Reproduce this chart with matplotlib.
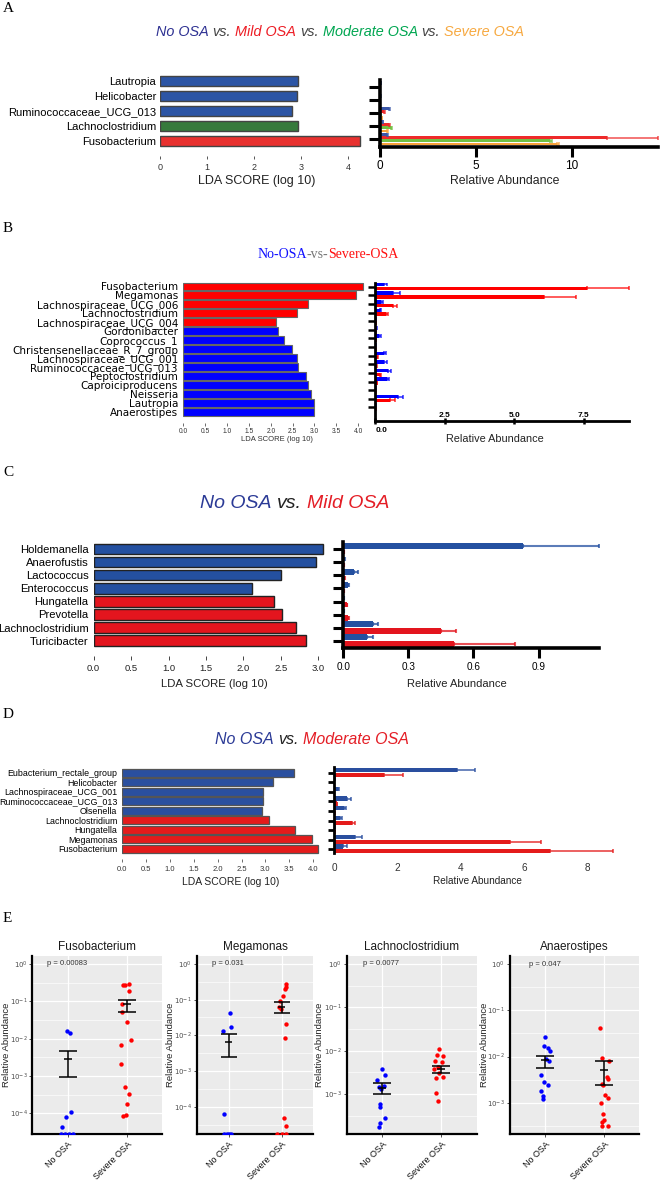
import numpy as np
import matplotlib
matplotlib.use("Agg")
import matplotlib.pyplot as plt
from matplotlib.colors import to_rgba
from matplotlib.ticker import FixedLocator, NullFormatter

# ---------------------------------------------------------------------------
# Panel A: all four groups
a_names = ['Lautropia', 'Helicobacter', 'Ruminococcaceae_UCG_013', 'Lachnoclostridium', 'Fusobacterium']
a_lda = [2.93, 2.90, 2.81, 2.93, 4.26]
a_enriched = [0, 0, 0, 2, 1]   # index into a_groups
a_groups = ['No OSA', 'Mild OSA', 'Moderate OSA', 'Severe OSA']
a_no = [0.03, 0.02, 0.45, 0.15, 0.36]
a_no_err = [0.01, 0.01, 0.08, 0.03, 0.08]
a_mild = [0.01, 0.01, 0.19, 0.45, 11.8]
a_mild_err = [0.005, 0.005, 0.05, 0.08, 2.7]
a_mod = [0.01, 0.01, 0.05, 0.55, 8.86]
a_mod_err = [0.005, 0.005, 0.01, 0.08, 0.1]
a_sev = [0.01, 0.01, 0.08, 0.36, 9.2]
a_sev_err = [0.005, 0.005, 0.02, 0.06, 0.1]

# Panel B: No-OSA vs Severe-OSA
b_names = ['Fusobacterium', 'Megamonas', 'Lachnospiraceae_UCG_006', 'Lachnoclostridium',
           'Lachnospiraceae_UCG_004', 'Gordonibacter', 'Coprococcus_1',
           'Christensenellaceae_R_7_group', 'Lachnospiraceae_UCG_001', 'Ruminococcaceae_UCG_013',
           'Peptoclostridium', 'Caproiciproducens', 'Neisseria', 'Lautropia', 'Anaerostipes']
b_lda = [4.10, 3.96, 2.86, 2.61, 2.11, 2.17, 2.31, 2.48, 2.61, 2.62, 2.81, 2.86, 2.92, 2.99, 3.00]
b_severe = [1, 1, 1, 1, 1, 0, 0, 0, 0, 0, 0, 0, 0, 0, 0]
b_no = [0.33, 0.64, 0.22, 0.16, 0.01, 0.04, 0.15, 0.01, 0.30, 0.33, 0.45, 0.42, 0.01, 0.83, 0.01]
b_no_err = [0.08, 0.25, 0.05, 0.04, 0.005, 0.01, 0.05, 0.005, 0.08, 0.08, 0.11, 0.09, 0.005, 0.16, 0.005]
b_sev = [7.6, 6.08, 0.65, 0.38, 0.02, 0.01, 0.03, 0.01, 0.08, 0.04, 0.16, 0.05, 0.01, 0.55, 0.01]
b_sev_err = [1.54, 1.14, 0.15, 0.08, 0.01, 0.005, 0.01, 0.005, 0.02, 0.01, 0.04, 0.01, 0.005, 0.16, 0.005]

# Panel C: No OSA vs Mild OSA
c_names = ['Holdemanella', 'Anaerofustis', 'Lactococcus', 'Enterococcus',
           'Hungatella', 'Prevotella', 'Lachnoclostridium', 'Turicibacter']
c_lda = [3.06, 2.97, 2.50, 2.11, 2.41, 2.51, 2.70, 2.83]
c_mild_enr = [0, 0, 0, 0, 1, 1, 1, 1]
c_no = [0.83, 0.004, 0.05, 0.02, 0.003, 0.002, 0.137, 0.11]
c_no_err = [0.35, 0.002, 0.02, 0.005, 0.001, 0.001, 0.023, 0.027]
c_mild = [0.002, 0.001, 0.005, 0.003, 0.015, 0.02, 0.45, 0.51]
c_mild_err = [0.001, 0.0005, 0.002, 0.001, 0.004, 0.005, 0.07, 0.28]

# Panel D: No OSA vs Moderate OSA
d_names = ['Eubacterium_rectale_group', 'Helicobacter', 'Lachnospiraceae_UCG_001',
           'Ruminococcaceae_UCG_013', 'Olsenella', 'Lachnoclostridium', 'Hungatella',
           'Megamonas', 'Fusobacterium']
d_lda = [3.60, 3.15, 2.96, 2.96, 2.92, 3.07, 3.61, 3.97, 4.11]
d_mod_enr = [0, 0, 0, 0, 0, 1, 1, 1, 1]
d_no = [3.87, 0.03, 0.12, 0.42, 0.30, 0.20, 0.02, 0.66, 0.27]
d_no_err = [0.58, 0.01, 0.03, 0.11, 0.08, 0.05, 0.01, 0.23, 0.15]
d_mod = [1.58, 0.01, 0.01, 0.08, 0.03, 0.57, 0.02, 5.55, 6.81]
d_mod_err = [0.59, 0.005, 0.005, 0.02, 0.01, 0.09, 0.01, 0.98, 2.0]

# Panel E: individual samples (0 = not detected), x = jittered position
e_titles = ['Fusobacterium', 'Megamonas', 'Lachnoclostridium', 'Anaerostipes']
e_pvals = ['p = 0.00083', 'p = 0.031', 'p = 0.0077', 'p = 0.047']
e_cats = ['No OSA', 'Severe OSA']

fuso_no_x = [0.98, 1.03, 1.06, 0.97, 0.90, 0.88, 0.95, 1.02, 1.09]
fuso_no_y = [0.0162, 0.0145, 1.1e-4, 8.1e-5, 4.4e-5, 0, 0, 0, 0]
fuso_sev_x = [1.93, 1.97, 2.04, 2.04, 1.92, 1.91, 2.00, 2.07, 1.90, 1.90, 1.97, 2.03, 2.00, 1.93, 1.98]
fuso_sev_y = [0.268, 0.274, 0.297, 0.189, 0.083, 0.0527, 0.0284, 0.009, 0.00687, 0.00204,
              4.93e-4, 3.27e-4, 1.8e-4, 8.6e-5, 8.95e-5]
fuso_bars = [(0.00278, 0.00093, 0.00479), (0.083, 0.0516, 0.108)]

mega_no_x = [1.02, 0.89, 1.05, 0.92, 0.92, 0.97, 1.01, 1.05]
mega_no_y = [0.0417, 0.0133, 0.0172, 6.3e-5, 0, 0, 0, 0]
mega_sev_x = [2.08, 2.09, 2.07, 2.03, 1.97, 1.98, 1.96, 2.09, 2.06, 2.04, 2.08, 1.92, 2.01, 2.09]
mega_sev_y = [0.269, 0.232, 0.204, 0.130, 0.092, 0.056, 0.064, 0.0209, 0.00865, 4.75e-5, 2.9e-5, 0, 0, 0]
mega_bars = [(0.00667, 0.00254, 0.0107), (0.0638, 0.0434, 0.0881)]

lach_no_x = [1.00, 0.906, 1.044, 0.945, 1.033, 0.984, 0.967, 0.956, 1.05, 0.967, 0.95]
lach_no_y = [0.00383, 0.00213, 0.00269, 0.00147, 0.00155, 0.00128, 5.94e-4, 5.07e-4,
             2.82e-4, 2.09e-4, 1.75e-4]
lach_sev_x = [1.97, 1.92, 2.03, 1.89, 2.02, 1.95, 1.88, 1.91, 2.03, 1.97, 1.91, 1.95]
lach_sev_y = [0.0111, 0.00778, 0.00764, 0.00575, 0.00546, 0.00411, 0.00369, 0.00229,
              0.00242, 0.00299, 0.00103, 6.98e-4]
lach_bars = [(0.00139, 0.000995, 0.00175), (0.00369, 0.00299, 0.00449)]

anae_no_x = [0.99, 0.97, 1.04, 1.08, 1.02, 1.07, 0.92, 0.97, 1.04, 0.92, 0.96, 0.96]
anae_no_y = [0.0259, 0.0171, 0.015, 0.0131, 0.00908, 0.0081, 0.00409, 0.00284, 0.0024,
             0.00181, 0.00139, 0.00124]
anae_sev_x = [1.93, 1.96, 2.08, 2.05, 2.06, 1.96, 1.98, 2.01, 2.06, 1.95, 1.99, 2.00, 1.97, 1.96, 2.06]
anae_sev_y = [0.0412, 0.00923, 0.00809, 0.00364, 0.00335, 0.00261, 0.00237, 0.00149,
              0.00128, 0.000998, 5.86e-4, 4.35e-4, 3.86e-4, 3.12e-4, 3.12e-4]
anae_bars = [(0.00836, 0.00561, 0.01054), (0.00508, 0.0024, 0.00794)]

# ---------------------------------------------------------------------------
W, H = 661, 1180
plt.rcParams['font.family'] = ['Liberation Sans', 'DejaVu Sans']
plt.rcParams['mathtext.fontset'] = 'dejavusans'
SERIF = ['Liberation Serif', 'DejaVu Serif']

fig = plt.figure(figsize=(W / 100, H / 100), dpi=100)


def px_axes(x0, y0, x1, y1):
    # axes given by its pixel box (top-left origin)
    return fig.add_axes([x0 / W, 1 - y1 / H, (x1 - x0) / W, (y1 - y0) / H])


def ptext(x, y, s, **kw):
    return fig.text(x / W, 1 - y / H, s, **kw)


def set_rows(ax, c0, step, y0, y1):
    # row i sits at pixel c0 + i*step inside a box from y0 to y1
    ax.set_ylim((y1 - c0) / step, (y0 - c0) / step)


def multicolor(xc, yc, parts, size, **kw):
    # centred title made of differently coloured pieces
    renderer = fig.canvas.get_renderer()
    gap = kw.pop('gap', 0.278 * size * 100 / 72)
    texts, widths = [], []
    for s, c in parts:
        t = ptext(0, yc, s, color=c, fontsize=size, ha='left', va='center', **kw)
        texts.append(t)
        widths.append(t.get_window_extent(renderer).width)
    total = sum(widths) + gap * (len(parts) - 1)
    x = xc - total / 2
    for t, w in zip(texts, widths):
        t.set_x(x / W)
        x += w + gap


def lda_panel(ax, names, scores, colors, size, family, pad, edge, elw, height):
    y = np.arange(len(names))
    ax.barh(y, scores, height=height, color=colors, edgecolor=edge, linewidth=elw)
    ax.set_yticks(y)
    ax.set_yticklabels(names, fontsize=size, family=family)
    ax.tick_params(axis='y', length=0, pad=pad)
    for s in ax.spines.values():
        s.set_visible(False)


def abund_panel(ax, series, colors, offsets, height, elw):
    n = len(series[0][0])
    y = np.arange(n)
    for (vals, errs), c, off in zip(series, colors, offsets):
        ax.barh(y + off, vals, height=height, color=c,
                xerr=[np.zeros(n), errs],
                error_kw=dict(ecolor=to_rgba(c, 0.75), elinewidth=elw, capsize=1.2, capthick=elw))
    ax.set_yticks(y)
    ax.set_yticklabels([])
    ax.spines['top'].set_visible(False)
    ax.spines['right'].set_visible(False)


# ---------------------------------------------------------------------------
# A
ptext(3, 9, 'A', fontsize=11, family=SERIF, va='center')
multicolor(340, 32, [('No OSA', '#2e3192'), ('vs.', '#444444'), ('Mild OSA', '#ed1c24'),
                     ('vs.', '#444444'), ('Moderate OSA', '#00a651'), ('vs.', '#444444'),
                     ('Severe OSA', '#f7a941')], 10.4, style='italic')

a_col_lda = ['#2c55a5', '#e8312f', '#367a3c', '#f6a033']
ax = px_axes(160.2, 72, 160.2 + 4.4 * 47, 156)
lda_panel(ax, a_names, a_lda, [a_col_lda[g] for g in a_enriched], 8, None, 3, '#444444', 1.0, 0.72)
set_rows(ax, 81, 15, 72, 156)
ax.set_xlim(0, 4.4)
ax.set_xticks([0, 1, 2, 3, 4])
ax.tick_params(axis='x', length=2.5, width=0.7, color='#555555', labelsize=6.5, pad=2.5, labelcolor='#333333')
ptext(257, 181, 'LDA SCORE (log 10)', fontsize=9, ha='center', va='center', color='#222222')

ax = px_axes(380, 80, 657.7, 147.3)
abund_panel(ax, [(a_no, a_no_err), (a_mild, a_mild_err), (a_mod, a_mod_err), (a_sev, a_sev_err)],
            ['#3a56a8', '#ee2a2a', '#72c043', '#f7a13a'], [-0.36, -0.12, 0.12, 0.36], 0.22, 1.2)
set_rows(ax, 87.3, 13, 80, 147.3)
ax.set_xlim(0, 14.46)
ax.set_xticks([0, 5, 10])
for s in ['left', 'bottom']:
    ax.spines[s].set_linewidth(2.6)
ax.tick_params(axis='y', length=8, width=2.2)
ax.tick_params(axis='x', length=7, width=2.2, labelsize=8.5, pad=2)
ptext(505, 181, 'Relative Abundance', fontsize=8.8, ha='center', va='center', color='#222222')

# B
ptext(3, 229, 'B', fontsize=11, family=SERIF, va='center')
multicolor(328, 254.3, [('No-OSA', '#1010ff'), ('-vs-', '#777777'), ('Severe-OSA', '#ff1010')],
           10, family=SERIF, gap=0)

ax = px_axes(183.4, 281, 183.4 + 4.15 * 43.7, 423.3)
lda_panel(ax, b_names, b_lda, ['#ff0000' if s else '#0000ff' for s in b_severe],
          7.5, 'DejaVu Sans', 3.9, '#666666', 0.8, 0.84)
set_rows(ax, 286.3, 8.96, 281, 423.3)
ax.set_xlim(0, 4.15)
ax.set_xticks(np.arange(0, 4.01, 0.5))
ax.set_xticklabels(['%.1f' % v for v in np.arange(0, 4.01, 0.5)])
ax.tick_params(axis='x', length=2, width=0.6, color='#555555', labelsize=4.8, pad=1.5, labelcolor='#333333')
ptext(277, 439.3, 'LDA SCORE (log 10)', fontsize=5.5, ha='center', va='center', color='#333333')

ax = px_axes(375.2, 282.7, 629.4, 421)
abund_panel(ax, [(b_no, b_no_err), (b_sev, b_sev_err)], ['#0000ff', '#ff0000'],
            [-0.26, 0.2], 0.42, 1.2)
set_rows(ax, 286.7, 8.62, 282.7, 421)
ax.set_xlim(0, 9.14)
ax.set_xticks([0, 2.5, 5.0, 7.5])
ax.set_xticklabels([])
for s in ['left', 'bottom']:
    ax.spines[s].set_linewidth(2.0)
ax.tick_params(axis='y', length=5, width=1.8)
ax.tick_params(axis='x', length=4, width=1.8, direction='inout')
xt = ax.get_xaxis_transform()
for v in [2.5, 5.0, 7.5]:
    ax.text(v, 0.015, '%.1f' % v, transform=xt, fontsize=6, fontweight='bold', ha='center', va='bottom')
ax.text(0, -0.04, '0.0', transform=xt, fontsize=6, fontweight='bold', ha='left', va='top', clip_on=False)
ptext(494.7, 439.3, 'Relative Abundance', fontsize=7.8, ha='center', va='center', color='#222222')

# C
ptext(3, 473, 'C', fontsize=11, family=SERIF, va='center')
multicolor(295, 503.3, [('No OSA', '#2b3a96'), ('vs.', '#222222'), ('Mild OSA', '#e41e26')],
           14, style='italic')

ax = px_axes(93.6, 541, 93.6 + 3.12 * 74.9, 656)
lda_panel(ax, c_names, c_lda, ['#e3151e' if m else '#2450a0' for m in c_mild_enr],
          8.1, None, 3.7, '#222222', 1.0, 0.8)
set_rows(ax, 549, 13.1, 541, 656)
ax.set_xlim(0, 3.12)
ax.set_xticks(np.arange(0, 3.01, 0.5))
ax.set_xticklabels(['%.1f' % v for v in np.arange(0, 3.01, 0.5)])
ax.tick_params(axis='x', length=3, width=0.7, color='#444444', labelsize=6.8, pad=3, labelcolor='#222222')
ptext(214, 684, 'LDA SCORE (log 10)', fontsize=8.2, ha='center', va='center', color='#222222')

ax = px_axes(343.3, 541.7, 599.3, 648.3)
abund_panel(ax, [(c_no, c_no_err), (c_mild, c_mild_err)], ['#2450a0', '#e3151e'],
            [-0.27, 0.23], 0.45, 1.5)
set_rows(ax, 549.3, 13.06, 541.7, 648.3)
ax.set_xlim(0, 1.18)
ax.set_xticks([0, 0.3, 0.6, 0.9])
ax.set_xticklabels(['0.0', '0.3', '0.6', '0.9'])
for s in ['left', 'bottom']:
    ax.spines[s].set_linewidth(2.6)
ax.tick_params(axis='y', length=7, width=2.2)
ax.tick_params(axis='x', length=7, width=2.2, labelsize=7.2, pad=3)
ptext(457, 684.3, 'Relative Abundance', fontsize=8, ha='center', va='center', color='#222222')

# D
ptext(3, 715, 'D', fontsize=11, family=SERIF, va='center')
multicolor(311.8, 740, [('No OSA', '#2b3a96'), ('vs.', '#222222'), ('Moderate OSA', '#e41e26')],
           11.5, style='italic')

ax = px_axes(122, 766, 122 + 4.2 * 47.8, 859.3)
lda_panel(ax, d_names, d_lda, ['#e41b1b' if m else '#2a4f9f' for m in d_mod_enr],
          6.4, None, 3.5, '#555555', 0.9, 0.88)
set_rows(ax, 772.7, 9.5, 766, 859.3)
ax.set_xlim(0, 4.2)
ax.set_xticks(np.arange(0, 4.01, 0.5))
ax.set_xticklabels(['%.1f' % v for v in np.arange(0, 4.01, 0.5)])
ax.tick_params(axis='x', length=2.5, width=0.6, color='#555555', labelsize=5.5, pad=2, labelcolor='#333333')
ptext(230.8, 882.3, 'LDA SCORE (log 10)', fontsize=7.5, ha='center', va='center', color='#222222')

ax = px_axes(334, 767.3, 334 + 8.9 * 31.7, 853.3)
abund_panel(ax, [(d_no, d_no_err), (d_mod, d_mod_err)], ['#2a4f9f', '#e41b1b'],
            [-0.3, 0.22], 0.45, 1.3)
set_rows(ax, 772.7, 9.58, 767.3, 853.3)
ax.set_xlim(0, 8.9)
ax.set_xticks([0, 2, 4, 6, 8])
ax.spines['bottom'].set_visible(False)
ax.spines['left'].set_linewidth(2.0)
ax.tick_params(axis='y', length=4, width=2.0)
ax.tick_params(axis='x', length=0, labelsize=7.2, pad=7, labelcolor='#333333')
ptext(477.3, 881, 'Relative Abundance', fontsize=7.2, ha='center', va='center', color='#222222')

# E
ptext(3, 918.3, 'E', fontsize=11, family=SERIF, va='center')
e_data = [(fuso_no_x, fuso_no_y, fuso_sev_x, fuso_sev_y, fuso_bars),
          (mega_no_x, mega_no_y, mega_sev_x, mega_sev_y, mega_bars),
          (lach_no_x, lach_no_y, lach_sev_x, lach_sev_y, lach_bars),
          (anae_no_x, anae_no_y, anae_sev_x, anae_sev_y, anae_bars)]
e_boxes = [(32.3, 162.3), (197, 313.3), (346.7, 476.7), (510, 639.3)]
e_ylims = [(-4.56, 0.22), (-4.77, 0.23), (-3.93, 0.19), (-3.68, 0.18)]
e_ylab_x = [6.5, 171, 320, 485]
e_ptext_x = [0.11, 0.13, 0.128, 0.147]

for k in range(4):
    nx, ny, sx, sy, bars = e_data[k]
    x0, x1 = e_boxes[k]
    ax = px_axes(x0, 955.7, x1, 1134.3)
    lo, hi = e_ylims[k]
    ax.set_facecolor('#ebebeb')
    ax.set_yscale('log')
    ax.set_ylim(10 ** lo, 10 ** hi)
    ax.set_xlim(0.4, 2.6)
    decades = np.arange(int(np.ceil(lo)), 1)
    ax.set_yticks(10.0 ** decades)
    ax.set_yticklabels([r'$10^{%d}$' % d for d in decades])
    ax.yaxis.set_minor_locator(FixedLocator(10.0 ** (np.arange(int(np.floor(lo)), 1) + 0.5)))
    ax.yaxis.set_minor_formatter(NullFormatter())
    ax.set_xticks([1, 2])
    ax.set_xticklabels(e_cats, rotation=45, ha='right', rotation_mode='anchor', fontsize=6.5, color='#111111')
    ax.grid(True, which='major', color='white', linewidth=0.9)
    ax.grid(True, which='minor', axis='y', color='white', linewidth=0.45)
    ax.set_axisbelow(True)
    ax.tick_params(axis='y', which='major', labelsize=5, labelcolor='#4d4d4d', length=2, width=0.6, color='#333333', pad=1.5)
    ax.tick_params(axis='y', which='minor', length=0)
    ax.tick_params(axis='x', length=2, width=0.6, color='#333333', pad=2)
    ax.spines['top'].set_visible(False)
    ax.spines['right'].set_visible(False)
    ax.spines['left'].set_linewidth(1.6)
    ax.spines['bottom'].set_linewidth(1.6)

    floor = 10 ** lo
    ny = np.array(ny, dtype=float)
    sy = np.array(sy, dtype=float)
    ax.scatter(nx, np.where(ny > 0, ny, floor), s=10, color='#0000ff', linewidths=0, zorder=3)
    ax.scatter(sx, np.where(sy > 0, sy, floor), s=10, color='#ff0000', linewidths=0, zorder=3)
    for pos, (m, bl, bh) in zip([1, 2], bars):
        ax.vlines(pos, bl, bh, color='black', linewidth=1.1, zorder=4)
        ax.hlines([bl, bh], pos - 0.15, pos + 0.15, color='black', linewidth=1.1, zorder=4)
        ax.hlines(m, pos - 0.07, pos + 0.07, color='black', linewidth=1.1, zorder=4)

    ax.set_title(e_titles[k], fontsize=8.5, color='#1a1a1a', pad=4)
    ax.text(e_ptext_x[k], 1.0, e_pvals[k], transform=ax.get_yaxis_transform(),
            fontsize=5.5, color='#333333', ha='left', va='center')
    ptext(e_ylab_x[k], 1045, 'Relative Abundance', fontsize=6.8, rotation=90,
          ha='center', va='center', color='#222222')

fig.savefig('out.png', dpi=100)
